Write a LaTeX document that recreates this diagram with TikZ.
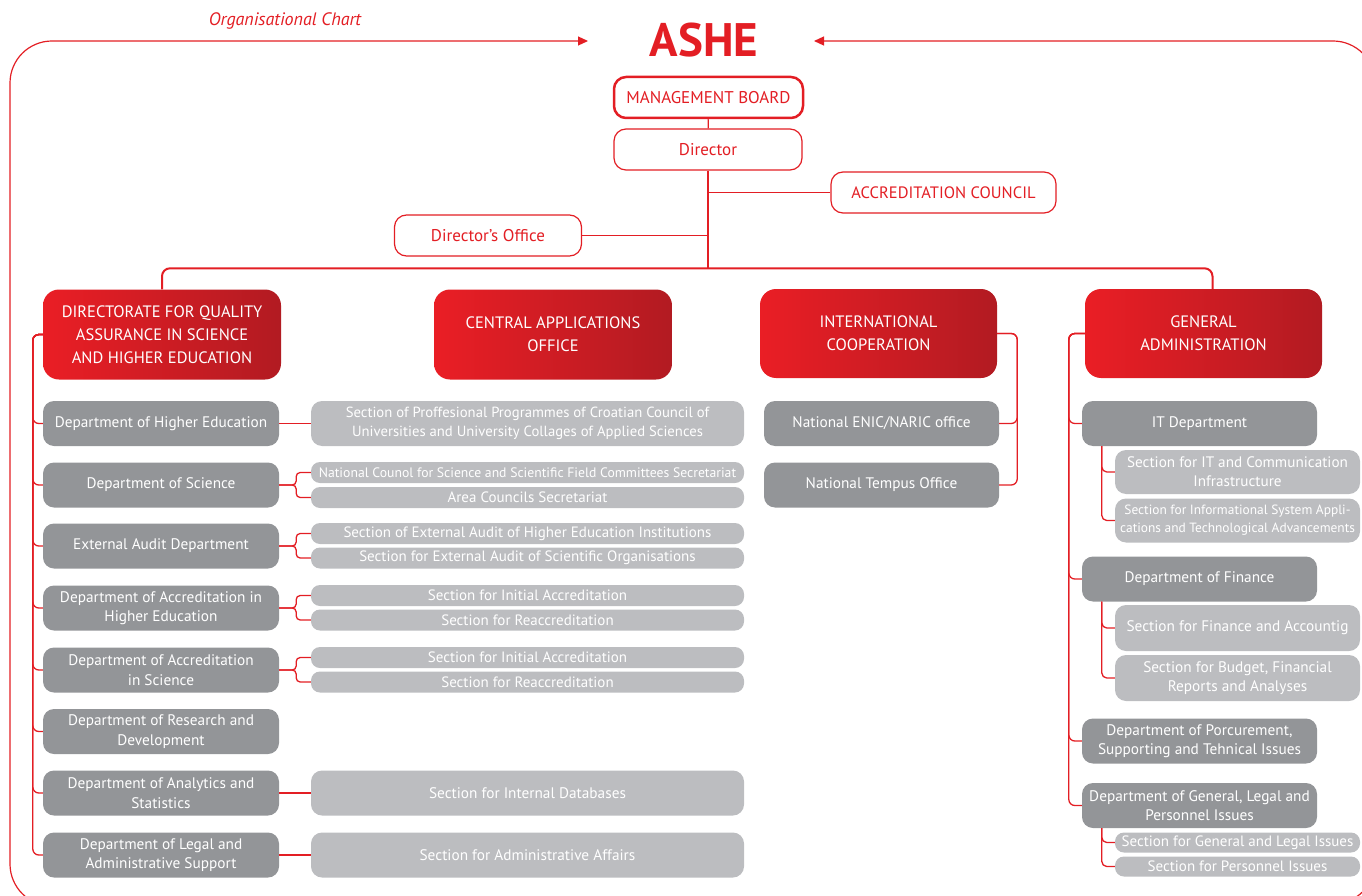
\documentclass[tikz,border=0pt]{standalone}
\usepackage{fontspec}
\setmainfont{PT Sans}
\usetikzlibrary{arrows.meta}
\definecolor{ashered}{RGB}{227,30,36}
\definecolor{hdrlight}{RGB}{234,30,37}
\definecolor{hdrdark}{RGB}{178,27,34}
\definecolor{deptgray}{RGB}{147,149,152}
\definecolor{secgray}{RGB}{188,189,192}

\begin{document}
\begin{tikzpicture}[x=1pt,y=-1pt,
board/.style={draw=ashered,fill=white,text=ashered,rounded corners=12pt,line width=1.2pt,minimum height=41pt,font=\fontsize{17}{19}\selectfont},
head/.style={left color=hdrlight,right color=hdrdark,text=white,rounded corners=16pt,minimum width=238pt,minimum height=90pt,align=center,font=\fontsize{16.5}{23}\selectfont},
dept/.style={fill=deptgray,text=white,rounded corners=11pt,minimum width=236pt,minimum height=45pt,inner sep=1pt,align=center,font=\fontsize{15.3}{19.5}\selectfont},
sect/.style={fill=secgray,text=white,rounded corners=11pt,minimum height=45pt,inner sep=1pt,align=center,font=\fontsize{15.3}{19.5}\selectfont},
pair/.style={sect,rounded corners=9pt,minimum height=21pt,inner sep=0pt,font=\fontsize{15}{16}\selectfont},
link/.style={draw=ashered,line width=1.3pt},
frame/.style={draw=ashered,line width=1.2pt,rounded corners=42pt}]
\useasboundingbox (0,0) rectangle (1362,896);
\node[text=ashered,font=\fontsize{18}{20}\selectfont\itshape] (title) at (285,21) {Organisational Chart};
\node[text=ashered,font=\fontsize{47}{50}\selectfont\bfseries,anchor=base] (ashe) at (704,57) {ASHE};
\coordinate (tipl) at (588,41);
\coordinate (tipr) at (814,41);
\begin{scope}
\clip (0,0) rectangle (1362,896);
\draw[frame,-{Triangle[length=10pt,width=9pt]}] (200,906) -| (10,41) -- (tipl);
\draw[frame,-{Triangle[length=10pt,width=9pt]}] (1200,904) -| (1375,41) -- (tipr);
\end{scope}

\node[board,line width=2.5pt,minimum width=189pt] (mb) at (708.5,97.5) {MANAGEMENT BOARD};
\node[board,minimum width=188pt] (dir) at (708,149.5) {Director};
\node[board,minimum width=225pt,font=\fontsize{16.5}{19}\selectfont] (ac) at (943.5,192.5) {ACCREDITATION COUNCIL};
\node[board,minimum width=187pt] (dof) at (488,235.5) {Director's Office};
\coordinate (hub) at (708,268);

\node[head] (dqa) at (162,334.5) {DIRECTORATE FOR QUALITY\\ASSURANCE IN SCIENCE\\AND HIGHER EDUCATION};
\node[head] (cao) at (553,334.5) {CENTRAL APPLICATIONS\\OFFICE};
\node[head,minimum width=237pt,minimum height=89pt] (ic) at (878.5,333.5) {INTERNATIONAL\\COOPERATION};
\node[head,minimum width=237pt,minimum height=89pt] (ga) at (1203.5,333.5) {GENERAL\\ADMINISTRATION};

\node[dept] (d1) at (161,423.5) {Department of Higher Education};
\node[dept] (d2) at (161,485) {Department of Science};
\node[dept] (d3) at (161,546) {External Audit Department};
\node[dept] (d4) at (161,608) {Department of Accreditation in\\Higher Education};
\node[dept] (d5) at (161,670) {Department of Accreditation\\in Science};
\node[dept] (d6) at (161,731.5) {Department of Research and\\Development};
\node[dept] (d7) at (161,793) {Department of Analytics and\\Statistics};
\node[dept] (d8) at (161,855) {Department of Legal and\\Administrative Support};

\node[sect,minimum width=433pt,font=\fontsize{14.7}{19.5}\selectfont] (s1) at (527.5,423.5) {Section of Proffesional Programmes of Croatian Council of\\Universities and University Collages of Applied Sciences};
\node[pair,minimum width=433pt,font=\fontsize{13.7}{15}\selectfont] (s2a) at (527.5,472.5) {National Counol for Science and Scientific Field Committees Secretariat};
\node[pair,minimum width=433pt] (s2b) at (527.5,497.5) {Area Councils Secretariat};
\node[pair,minimum width=433pt] (s3a) at (527.5,533.5) {Section of External Audit of Higher Education Institutions};
\node[pair,minimum width=433pt] (s3b) at (527.5,558) {Section for External Audit of Scientific Organisations};
\node[pair,minimum width=433pt] (s4a) at (527.5,595.5) {Section for Initial Accreditation};
\node[pair,minimum width=433pt] (s4b) at (527.5,620) {Section for Reaccreditation};
\node[pair,minimum width=433pt] (s5a) at (527.5,657.5) {Section for Initial Accreditation};
\node[pair,minimum width=433pt] (s5b) at (527.5,682) {Section for Reaccreditation};
\node[sect,minimum width=433pt] (s7) at (527.5,793) {Section for Internal Databases};
\node[sect,minimum width=433pt] (s8) at (527.5,855) {Section for Administrative Affairs};

\node[dept,minimum width=235pt] (enic) at (881.5,423.5) {National ENIC/NARIC office};
\node[dept,minimum width=235pt] (tempus) at (881.5,485) {National Tempus Office};

\node[dept,minimum width=235pt] (it) at (1199.5,423.5) {IT Department};
\node[sect,minimum width=245pt,minimum height=44pt,font=\fontsize{15.2}{19}\selectfont] (sit1) at (1237.5,472) {Section for IT and Communication\\Infrastructure};
\node[sect,minimum width=245pt,minimum height=44pt,font=\fontsize{13.4}{18}\selectfont] (sit2) at (1237.5,520.5) {Section for Informational System Appli-\\cations and Technological Advancements};
\node[dept,minimum width=235pt] (fin) at (1199.5,579) {Department of Finance};
\node[sect,minimum width=245pt,minimum height=46pt] (sfin1) at (1237.5,628) {Section for Finance and Accountig};
\node[sect,minimum width=245pt,minimum height=46pt] (sfin2) at (1237.5,678) {Section for Budget, Financial\\Reports and Analyses};
\node[dept,minimum width=235pt] (proc) at (1199.5,741) {Department of Porcurement,\\Supporting and Tehnical Issues};
\node[dept,minimum width=235pt] (gen) at (1199.5,805.5) {Department of General, Legal and\\Personnel Issues};
\node[pair,minimum width=245pt,minimum height=20pt,font=\fontsize{15}{16}\selectfont] (sgen1) at (1237.5,842.5) {Section for General and Legal Issues};
\node[pair,minimum width=245pt,minimum height=20pt] (sgen2) at (1237.5,866.5) {Section for Personnel Issues};

\draw[link] (mb) -- (dir);
\draw[link,line width=1.8pt] (dir) -- (hub);
\draw[link] (ac) -- (ac -| hub);
\draw[link] (dof) -- (dof -| hub);
\draw[link,line width=2pt,rounded corners=8pt] (dqa.north) -- ++(0,-21) -| ([xshift=9pt]ga.north);

\draw[link,rounded corners=6pt] (dqa.west) -- ++(-10,0) |- (d1.west);
\draw[link,rounded corners=6pt] (dqa.west) -- ++(-10,0) |- (d2.west);
\draw[link,rounded corners=6pt] (dqa.west) -- ++(-10,0) |- (d3.west);
\draw[link,rounded corners=6pt] (dqa.west) -- ++(-10,0) |- (d4.west);
\draw[link,rounded corners=6pt] (dqa.west) -- ++(-10,0) |- (d5.west);
\draw[link,rounded corners=6pt] (dqa.west) -- ++(-10,0) |- (d6.west);
\draw[link,rounded corners=6pt] (dqa.west) -- ++(-10,0) |- (d7.west);
\draw[link,rounded corners=6pt] (dqa.west) -- ++(-10,0) |- (d8.west);

\draw[link] (d1) -- (s1);
\draw[link,rounded corners=4pt] (d2.east) -- ++(17,0) |- (s2a.west);
\draw[link,rounded corners=4pt] (d2.east) -- ++(17,0) |- (s2b.west);
\draw[link,rounded corners=4pt] (d3.east) -- ++(17,0) |- (s3a.west);
\draw[link,rounded corners=4pt] (d3.east) -- ++(17,0) |- (s3b.west);
\draw[link,rounded corners=4pt] (d4.east) -- ++(17,0) |- (s4a.west);
\draw[link,rounded corners=4pt] (d4.east) -- ++(17,0) |- (s4b.west);
\draw[link,rounded corners=4pt] (d5.east) -- ++(17,0) |- (s5a.west);
\draw[link,rounded corners=4pt] (d5.east) -- ++(17,0) |- (s5b.west);
\draw[link] (d7) -- (s7);
\draw[link] (d8) -- (s8);

\draw[link,rounded corners=6pt] (ic.east) -- ++(20,0) |- (enic.east);
\draw[link,rounded corners=6pt] (ic.east) -- ++(20,0) |- (tempus.east);

\draw[link,rounded corners=6pt] (ga.west) -- ++(-16,0) |- (it.west);
\draw[link,rounded corners=6pt] (ga.west) -- ++(-16,0) |- (fin.west);
\draw[link,rounded corners=6pt] (ga.west) -- ++(-16,0) |- (proc.west);
\draw[link,rounded corners=6pt] (ga.west) -- ++(-16,0) |- (gen.west);
\draw[link,rounded corners=5pt] ([xshift=20pt]it.south west) |- (sit1.west);
\draw[link,rounded corners=5pt] ([xshift=20pt]it.south west) |- (sit2.west);
\draw[link,rounded corners=5pt] ([xshift=20pt]fin.south west) |- (sfin1.west);
\draw[link,rounded corners=5pt] ([xshift=20pt]fin.south west) |- (sfin2.west);
\draw[link,rounded corners=5pt] ([xshift=20pt]gen.south west) |- (sgen1.west);
\draw[link,rounded corners=5pt] ([xshift=20pt]gen.south west) |- (sgen2.west);
\end{tikzpicture}
\end{document}
